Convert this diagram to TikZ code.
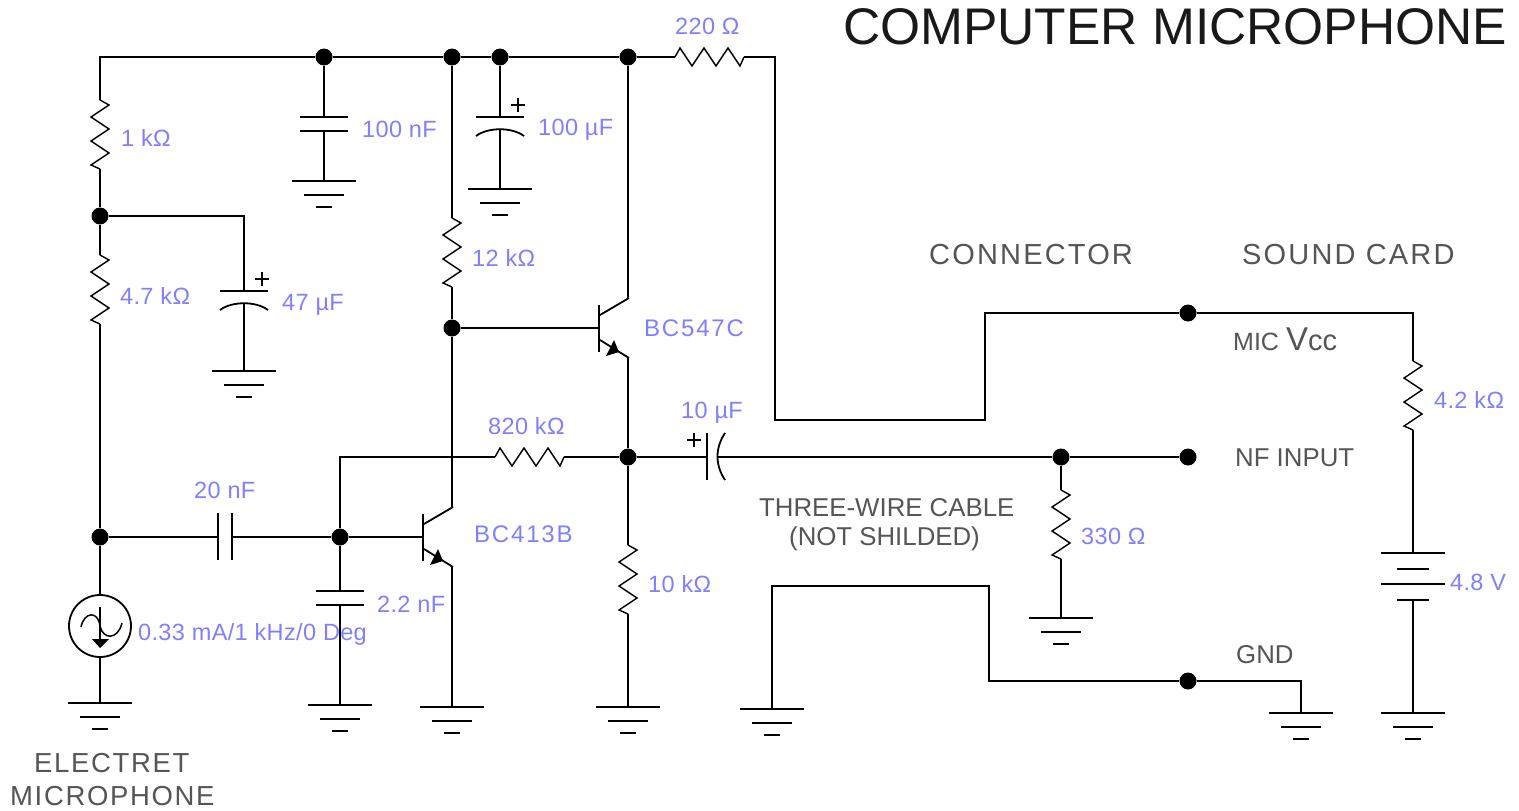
\documentclass[tikz,border=0pt]{standalone}
\usepackage{fontspec}
\setmainfont{Liberation Sans}
\newfontfamily\spacedfont[LetterSpace=6]{Liberation Sans}
\newfontfamily\widefont[LetterSpace=7.5]{Liberation Sans}
\newfontfamily\valfont[LetterSpace=1.5]{Liberation Sans}
\definecolor{valblue}{RGB}{128,128,255}
\definecolor{notegrey}{RGB}{85,85,85}
\tikzset{
	wire/.style={line width=1.8pt,line join=miter},
	dot/.style={circle,fill=black,inner sep=0pt,minimum size=17pt},
	val/.style={text=valblue,inner sep=0pt,anchor=west,text height=17pt,text depth=0pt,font=\valfont\fontsize{23.5}{24}\selectfont},
	partname/.style={val,font=\widefont\fontsize{24}{24}\selectfont},
	note/.style={text=notegrey,inner sep=0pt,anchor=west,text height=18pt,text depth=0pt,font=\fontsize{25.8}{28}\selectfont},
	head/.style={note,font=\spacedfont\fontsize{27.5}{32}\selectfont},
	widehead/.style={note,font=\widefont\fontsize{29}{32}\selectfont},
	srcring/.style={draw,circle,line width=1.8pt,inner sep=0pt,minimum size=62pt},
	pics/gnd/.style={code={
		\draw[wire] (-32,0)--(32,0);
		\draw[wire] (-20,14)--(20,14);
		\draw[wire] (-8,26)--(8,26);}},
	pics/resh/.style={code={
		\draw[line width=1.4pt] (0,0)--(5,-9)--(17,9)--(29,-9)--(41,9)--(53,-9)--(65,9)--(69,0);}},
	pics/resv/.style={code={
		\draw[line width=1.4pt] (0,0)--(9,5)--(-9,17)--(9,29)--(-9,41)--(9,53)--(-9,65)--(0,69);}},
	pics/capv/.style={code={
		\draw[wire] (-24,0)--(24,0);
		\draw[wire] (-24,14)--(24,14);}},
	pics/polv/.style={code={
		\draw[wire] (-24,0)--(24,0);
		\draw[wire] (-24,19) .. controls (-12,10) and (12,10) .. (24,19);
		\draw[wire] (11,-12)--(25,-12);
		\draw[wire] (18,-19)--(18,-5);}},
	pics/npn/.style={code={
		\draw[wire] (0,-23)--(0,24);
		\draw[wire] (1,-13)--(30,-30);
		\draw[wire] (1,12)--(30,30);
		\fill (15,12)--(7,28)--(20,24)--cycle;}}
}
\begin{document}
\begin{tikzpicture}[x=1pt,y=-1pt]
	\useasboundingbox (0,0) rectangle (1519,811);
	% junctions
	\node[dot] (topa) at (324,57) {};
	\node[dot] (topb) at (452,57) {};
	\node[dot] (topc) at (500,57) {};
	\node[dot] (topd) at (628,57) {};
	\node[dot] (split) at (100,216) {};
	\node[dot] (mic) at (100,537) {};
	\node[dot] (baseb) at (340,537) {};
	\node[dot] (basec) at (452,328) {};
	\node[dot] (emit) at (628,457) {};
	\node[dot] (load) at (1061,457) {};
	\node[dot] (vcc) at (1188,313) {};
	\node[dot] (nf) at (1188,457) {};
	\node[dot] (gndpin) at (1188,681) {};
	\node[srcring] (src) at (100,626) {};
	% free ends of the parts
	\coordinate (corner) at (100,57);
	\coordinate (r1a) at (100,100); \coordinate (r1b) at (100,169);
	\coordinate (r47a) at (100,255); \coordinate (r47b) at (100,324);
	\coordinate (c47) at (244,216); \coordinate (c47a) at (244,291); \coordinate (c47b) at (244,303); \coordinate (g47) at (244,371);
	\coordinate (cna) at (324,117); \coordinate (cnb) at (324,131); \coordinate (gn) at (324,181);
	\coordinate (cua) at (500,117); \coordinate (cub) at (500,129); \coordinate (gu) at (500,189);
	\coordinate (r12a) at (452,218); \coordinate (r12b) at (452,287);
	\coordinate (rtopa) at (675,57); \coordinate (rtopb) at (744,57);
	\coordinate (ca) at (775,57); \coordinate (cb) at (775,420); \coordinate (cc) at (985,420); \coordinate (cd) at (985,313);
	\coordinate (vccr) at (1413,313); \coordinate (r42a) at (1413,361); \coordinate (r42b) at (1413,430);
	\coordinate (bata) at (1413,553); \coordinate (batb) at (1413,600); \coordinate (gbat) at (1413,713);
	\coordinate (q2) at (599,328); \coordinate (q2c) at (628,298); \coordinate (q2e) at (628,358);
	\coordinate (q1) at (423,537); \coordinate (q1c) at (452,507); \coordinate (q1e) at (452,567); \coordinate (gq1) at (452,707);
	\coordinate (fb) at (340,457); \coordinate (r82a) at (495,457); \coordinate (r82b) at (564,457);
	\coordinate (c10a) at (707,457); \coordinate (c10b) at (717,457);
	\coordinate (r10a) at (628,545); \coordinate (r10b) at (628,614); \coordinate (g10) at (628,707);
	\coordinate (c20a) at (218,537); \coordinate (c20b) at (232,537);
	\coordinate (c22a) at (340,591); \coordinate (c22b) at (340,605); \coordinate (g22) at (340,705);
	\coordinate (gsrc) at (100,703);
	\coordinate (r33a) at (1061,490); \coordinate (r33b) at (1061,559); \coordinate (g33) at (1061,618);
	\coordinate (gcab) at (772,709); \coordinate (cabup) at (772,586); \coordinate (cabr) at (989,586); \coordinate (cabd) at (989,681);
	\coordinate (gpinr) at (1301,681); \coordinate (gpin) at (1301,713);
	% wires
	\draw[wire] (r1a)--(corner)--(topa)--(topb)--(topc)--(topd)--(rtopa);
	\draw[wire] (rtopb)--(ca)--(cb)--(cc)--(cd)--(vcc)--(vccr)--(r42a);
	\draw[wire] (r42b)--(bata);
	\draw[wire] (batb)--(gbat);
	\draw[wire] (r1b)--(split)--(r47a);
	\draw[wire] (r47b)--(mic)--(src)--(gsrc);
	\draw[wire] (split)--(c47)--(c47a);
	\draw[wire] (c47b)--(g47);
	\draw[wire] (topa)--(cna);
	\draw[wire] (cnb)--(gn);
	\draw[wire] (topc)--(cua);
	\draw[wire] (cub)--(gu);
	\draw[wire] (topb)--(r12a);
	\draw[wire] (r12b)--(basec)--(q1c);
	\draw[wire] (basec)--(q2);
	\draw[wire] (topd)--(q2c);
	\draw[wire] (q2e)--(emit)--(r10a);
	\draw[wire] (r10b)--(g10);
	\draw[wire] (r82b)--(emit)--(c10a);
	\draw[wire] (c10b)--(load)--(nf);
	\draw[wire] (load)--(r33a);
	\draw[wire] (r33b)--(g33);
	\draw[wire] (baseb)--(fb)--(r82a);
	\draw[wire] (mic)--(c20a);
	\draw[wire] (c20b)--(baseb)--(q1);
	\draw[wire] (baseb)--(c22a);
	\draw[wire] (c22b)--(g22);
	\draw[wire] (q1e)--(gq1);
	\draw[wire] (gcab)--(cabup)--(cabr)--(cabd)--(gndpin)--(gpinr)--(gpin);
	% parts
	\pic at (r1a) {resv};
	\pic at (r47a) {resv};
	\pic at (r12a) {resv};
	\pic at (r10a) {resv};
	\pic at (r33a) {resv};
	\pic at (r42a) {resv};
	\pic at (rtopa) {resh};
	\pic at (r82a) {resh};
	\pic at (cna) {capv};
	\pic at (c22a) {capv};
	\pic at (cua) {polv};
	\pic at (c47a) {polv};
	\pic at (q1) {npn};
	\pic at (q2) {npn};
	\pic at (gsrc) {gnd};
	\pic at (g22) {gnd};
	\pic at (gq1) {gnd};
	\pic at (g10) {gnd};
	\pic at (gn) {gnd};
	\pic at (gu) {gnd};
	\pic at (g47) {gnd};
	\pic at (g33) {gnd};
	\pic at (gcab) {gnd};
	\pic at (gpin) {gnd};
	\pic at (gbat) {gnd};
	% sideways capacitors, battery, source
	\draw[wire] (c20a)+(0,-24)--+(0,23);
	\draw[wire] (c20b)+(0,-24)--+(0,23);
	\draw[wire] (c10a)+(0,-24)--+(0,23);
	\draw[wire] (725,433) .. controls (715,448) and (715,465) .. (725,480);
	\draw[wire] (c10a)+(-20,-17)--+(-6,-17);
	\draw[wire] (c10a)+(-13,-24)--+(-13,-10);
	\draw[wire] (bata)+(-32,0)--+(32,0);
	\draw[wire] (bata)+(-16,16)--+(16,16);
	\draw[wire] (bata)+(-32,31)--+(32,31);
	\draw[wire] (bata)+(-16,47)--+(16,47);
	\draw[line width=1.5pt] (81,627) .. controls (84,612) and (98,610) .. (100,626) .. controls (103,640) and (118,640) .. (122,623);
	\draw[wire] (100,607)--(100,640);
	\fill (92,639)--(109,639)--(100,648)--cycle;
	% values
	\node[val] (v220) at (675,26) {220 Ω};
	\node[val] (v1k) at (121,138) {1 kΩ};
	\node[val] (v100n) at (362,129) {100 nF};
	\node[val] (v100u) at (538,127) {100 µF};
	\node[val] (v47k) at (120,296) {4.7 kΩ};
	\node[val] (v47u) at (282,302) {47 µF};
	\node[val] (v12k) at (472,258) {12 kΩ};
	\node[partname] (vq2) at (644,328) {BC547C};
	\node[val] (v820) at (488,426) {820 kΩ};
	\node[val] (v10u) at (681,410) {10 µF};
	\node[partname] (vq1) at (474,534) {BC413B};
	\node[val] (v20n) at (194,490) {20 nF};
	\node[val] (v22n) at (377,604) {2.2 nF};
	\node[val] (v10k) at (648,584) {10 kΩ};
	\node[val] (v330) at (1081,536) {330 Ω};
	\node[val] (v42k) at (1434,400) {4.2 kΩ};
	\node[val] (v48) at (1450,582) {4.8 V};
	\node[val] (vsrc) at (138,632) {0.33 mA/1 kHz/0 Deg};
	% notes
	\node[inner sep=0pt,anchor=west,text=black!90,font=\fontsize{51.5}{54}\selectfont] (title) at (843,27) {COMPUTER MICROPHONE};
	\node[widehead] (connector) at (929,255) {CONNECTOR};
	\node[widehead] (card) at (1242,255) {SOUND CARD};
	\node[note] (micvcc) at (1233,341) {{\fontsize{25}{25}\selectfont MIC} {\fontsize{33}{33}\selectfont V}{\fontsize{29}{29}\selectfont cc}};
	\node[note] (nfin) at (1235,457) {NF INPUT};
	\node[note] (gndtxt) at (1236,654) {GND};
	\node[note] (cable) at (759,507) {THREE-WIRE CABLE};
	\node[note] (shield) at (789,536) {(NOT SHILDED)};
	\node[head] (electret) at (34,763) {ELECTRET};
	\node[head] (micname) at (10,796) {MICROPHONE};
\end{tikzpicture}
\end{document}
